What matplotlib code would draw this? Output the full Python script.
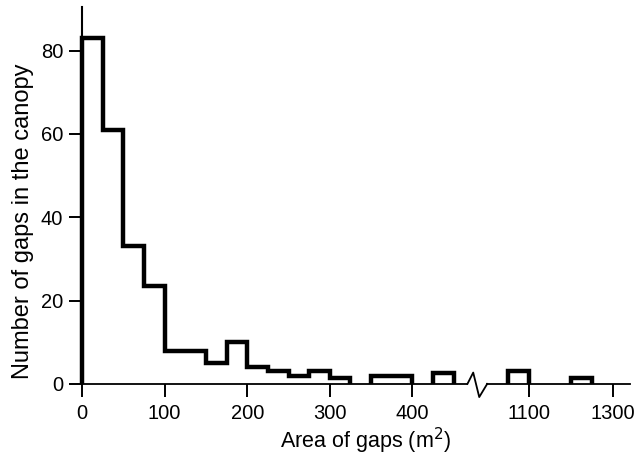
import numpy as np
import matplotlib
matplotlib.use('Agg')
import matplotlib.pyplot as plt

plt.rcParams['font.family'] = ['Liberation Sans', 'DejaVu Sans']

# histogram data
edges_lo = [0, 25, 50, 75, 100, 125, 150, 175, 200, 225, 250, 275, 300,
            325, 350, 375, 400, 425, 450]
counts_lo = [83, 61, 33, 23.5, 8, 8, 5, 10, 4, 3, 2, 3, 1.5,
             0, 2, 2, 0, 2.5]
edges_hi = [1050, 1100, 1150, 1200, 1250]
counts_hi = [3, 0, 0, 1.5]

xticks = [0, 100, 200, 300, 400, 1100, 1300]
yticks = [0, 20, 40, 60, 80]

GAP_END = 489.7
SLOPE_HI = 0.509


# broken x axis: 0-475 at full scale, gap squeezed, >1000 at about half scale
def fwd(x):
    x = np.asarray(x, dtype=float)
    return np.where(x <= 475, x,
                    np.where(x < 1000, 475 + (x - 475) * (GAP_END - 475) / 525,
                             GAP_END + (x - 1000) * SLOPE_HI))


def inv(p):
    p = np.asarray(p, dtype=float)
    return np.where(p <= 475, p,
                    np.where(p < GAP_END, 475 + (p - 475) * 525 / (GAP_END - 475),
                             1000 + (p - GAP_END) / SLOPE_HI))


fig = plt.figure(figsize=(6.36, 4.57), dpi=100)
ax = fig.add_axes([0.129, 0.16, 0.862, 0.825])
ax.set_xscale('function', functions=(fwd, inv))


def draw_runs(edges, counts):
    # one outline per run of non-empty bins, no line along the baseline
    i = 0
    n = len(counts)
    while i < n:
        if counts[i] == 0:
            i += 1
            continue
        j = i
        while j < n and counts[j] != 0:
            j += 1
        ax.stairs(counts[i:j], edges[i:j + 1], baseline=0, fill=False,
                  color='black', linewidth=3.2, clip_on=False,
                  joinstyle='miter')
        i = j


draw_runs(edges_lo, counts_lo)
draw_runs(edges_hi, counts_hi)

ax.set_xlim(0, 1342)
ax.set_ylim(0, 90.5)
ax.set_xticks(xticks)
ax.set_xticklabels([str(t) for t in xticks])
ax.set_yticks(yticks)
ax.minorticks_off()

for s in ['top', 'right', 'bottom']:
    ax.spines[s].set_visible(False)
ax.spines['left'].set_linewidth(1.5)

# bottom axis line with the break mark
ax.plot([0, 0.703], [0, 0], transform=ax.transAxes, color='black',
        linewidth=1.3, clip_on=False)
ax.plot([0.739, 1], [0, 0], transform=ax.transAxes, color='black',
        linewidth=1.3, clip_on=False)
ax.plot([0.703, 0.7135, 0.7245, 0.739], [0, 0.030, -0.035, 0],
        transform=ax.transAxes, color='black', linewidth=1.3,
        clip_on=False)

ax.tick_params(axis='both', direction='out', length=9.5, width=1.4,
               labelsize=14.5, color='black')
ax.tick_params(axis='x', pad=5)
ax.tick_params(axis='y', pad=4)

ax.set_xlabel('Area of gaps (m$^2$)', fontsize=15.5, labelpad=2)
ax.set_ylabel('Number of gaps in the canopy', fontsize=17)
ax.xaxis.label.set_x(0.518)
ax.yaxis.set_label_coords(-0.088, 0.432)

fig.savefig('out.png', dpi=100)
